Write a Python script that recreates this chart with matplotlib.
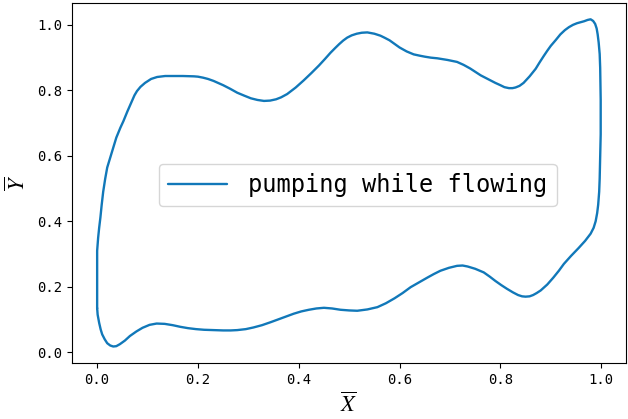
import matplotlib
matplotlib.use("Agg")
import matplotlib.pyplot as plt

# Closed indicator-like loop (bottom -> right -> top -> left)
x_bottom = [0.000, 0.001, 0.004, 0.007, 0.010, 0.015, 0.020, 0.026, 0.032, 0.038,
            0.045, 0.055, 0.065, 0.078, 0.090, 0.104, 0.118, 0.134, 0.150, 0.165,
            0.180, 0.196, 0.212, 0.230, 0.250, 0.265, 0.278, 0.295, 0.310, 0.327,
            0.344, 0.367, 0.390, 0.405, 0.420, 0.435, 0.450, 0.466, 0.483, 0.500,
            0.516, 0.536, 0.556, 0.573, 0.590, 0.606, 0.622, 0.640, 0.655, 0.668,
            0.681, 0.698, 0.714, 0.725, 0.735, 0.750, 0.767, 0.779, 0.790, 0.802,
            0.813, 0.825, 0.835, 0.843, 0.850, 0.858, 0.865, 0.872, 0.880, 0.893,
            0.905, 0.916, 0.926, 0.940, 0.955, 0.968, 0.979, 0.985, 0.989, 0.992,
            0.994, 0.996]
y_bottom = [0.135, 0.115, 0.090, 0.070, 0.055, 0.040, 0.028, 0.021, 0.018, 0.019,
            0.025, 0.036, 0.050, 0.064, 0.075, 0.084, 0.088, 0.087, 0.083, 0.078,
            0.074, 0.071, 0.069, 0.068, 0.067, 0.067, 0.068, 0.071, 0.076, 0.083,
            0.092, 0.105, 0.118, 0.125, 0.130, 0.134, 0.136, 0.134, 0.130, 0.128,
            0.127, 0.131, 0.138, 0.150, 0.165, 0.181, 0.199, 0.215, 0.228, 0.239,
            0.249, 0.258, 0.264, 0.265, 0.262, 0.255, 0.244, 0.231, 0.218, 0.205,
            0.194, 0.183, 0.175, 0.171, 0.170, 0.171, 0.175, 0.181, 0.189, 0.207,
            0.228, 0.249, 0.270, 0.294, 0.318, 0.340, 0.362, 0.380, 0.400, 0.425,
            0.450, 0.490]
x_right = [0.997, 0.998, 0.999, 0.999, 0.998, 0.997, 0.995, 0.993, 0.991, 0.988,
           0.984, 0.979]
y_right = [0.530, 0.600, 0.665, 0.770, 0.868, 0.910, 0.945, 0.970, 0.988, 1.002,
           1.011, 1.016]
x_top = [0.973, 0.966, 0.959, 0.952, 0.944, 0.936, 0.928, 0.919, 0.910, 0.900,
         0.893, 0.886, 0.878, 0.870, 0.858, 0.846, 0.838, 0.830, 0.824, 0.817,
         0.808, 0.800, 0.790, 0.780, 0.770, 0.761, 0.750, 0.740, 0.727, 0.714,
         0.695, 0.675, 0.662, 0.650, 0.640, 0.628, 0.614, 0.600, 0.590, 0.580,
         0.570, 0.562, 0.550, 0.536, 0.525, 0.515, 0.505, 0.496, 0.488, 0.480,
         0.472, 0.463, 0.452, 0.440, 0.425, 0.410, 0.394, 0.377, 0.365, 0.355,
         0.343, 0.331, 0.318, 0.305, 0.292, 0.278, 0.264, 0.250, 0.240, 0.231,
         0.220, 0.210, 0.200, 0.192, 0.170, 0.150, 0.135, 0.119, 0.107, 0.095,
         0.086, 0.079, 0.074, 0.070, 0.065, 0.060, 0.052, 0.046, 0.038, 0.030,
         0.024, 0.020, 0.016, 0.012, 0.009, 0.0065, 0.004, 0.002, 0.001, 0.000,
         0.000, 0.000, 0.000]
y_top = [1.014, 1.010, 1.007, 1.004, 0.999, 0.992, 0.983, 0.970, 0.953, 0.935,
         0.920, 0.904, 0.885, 0.865, 0.842, 0.822, 0.813, 0.808, 0.806, 0.806,
         0.809, 0.815, 0.822, 0.830, 0.838, 0.845, 0.856, 0.866, 0.877, 0.886,
         0.892, 0.897, 0.899, 0.902, 0.905, 0.909, 0.918, 0.930, 0.941, 0.952,
         0.960, 0.966, 0.972, 0.976, 0.975, 0.972, 0.967, 0.960, 0.951, 0.940,
         0.928, 0.914, 0.895, 0.875, 0.852, 0.830, 0.808, 0.788, 0.778, 0.772,
         0.768, 0.767, 0.770, 0.775, 0.783, 0.792, 0.804, 0.815, 0.822, 0.828,
         0.834, 0.838, 0.841, 0.842, 0.843, 0.843, 0.843, 0.840, 0.834, 0.822,
         0.810, 0.797, 0.784, 0.770, 0.752, 0.735, 0.705, 0.685, 0.655, 0.615,
         0.585, 0.564, 0.530, 0.490, 0.450, 0.412, 0.380, 0.350, 0.330, 0.310,
         0.230, 0.158, 0.135]

x_vals = x_bottom + x_right + x_top
y_vals = y_bottom + y_right + y_top
series_label = "pumping while flowing"
xticks = [0.0, 0.2, 0.4, 0.6, 0.8, 1.0]
yticks = [0.0, 0.2, 0.4, 0.6, 0.8, 1.0]

plt.rcParams['mathtext.fontset'] = 'stix'
mono = 'DejaVu Sans Mono'

fig = plt.figure(figsize=(6.28, 4.19), dpi=100)
ax = fig.add_axes([0.1146, 0.134, 0.882, 0.859])
ax.plot(x_vals, y_vals, color='#1178b9', lw=1.7, label=series_label,
        solid_joinstyle='round', solid_capstyle='round')
ax.set_xticks(xticks)
ax.set_yticks(yticks)
ax.set_xticklabels([f"{v:.1f}" for v in xticks], family=mono, fontsize=10)
ax.set_yticklabels([f"{v:.1f}" for v in yticks], family=mono, fontsize=10)
ax.set_xlabel(r'$\overline{X}$', fontsize=16, labelpad=4)
ax.set_ylabel(r'$\overline{Y}$', fontsize=16, labelpad=6)
leg = ax.legend(loc='center', bbox_to_anchor=(0.516, 0.494),
                prop={'family': mono, 'size': 17}, handlelength=2.5,
                handletextpad=0.9)
fig.savefig('out.png', dpi=100)
